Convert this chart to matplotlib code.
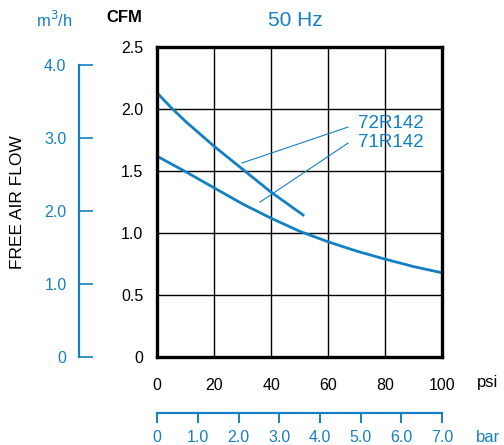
import numpy as np
import matplotlib
matplotlib.use("Agg")
import matplotlib.pyplot as plt

plt.rcParams['font.family'] = ['Liberation Sans', 'DejaVu Sans']

BLUE = '#1380c4'

# 72R142 curve (psi, CFM)
psi_72 = [0, 5, 10, 20, 30, 40, 51.6]
cfm_72 = [2.13, 2.01, 1.90, 1.70, 1.515, 1.33, 1.14]

# 71R142 curve (psi, CFM)
psi_71 = [0, 10, 20, 30, 40, 50, 60, 70, 80, 90, 100]
cfm_71 = [1.62, 1.495, 1.365, 1.235, 1.12, 1.015, 0.93, 0.855, 0.79, 0.73, 0.68]

cfm_ticks = [0, 0.5, 1.0, 1.5, 2.0, 2.5]
cfm_labels = ['0', '0.5', '1.0', '1.5', '2.0', '2.5']
psi_ticks = [0, 20, 40, 60, 80, 100]
m3h_ticks = [0, 1, 2, 3, 4]
m3h_labels = ['0', '1.0', '2.0', '3.0', '4.0']
bar_ticks = [0, 1, 2, 3, 4, 5, 6, 7]
bar_labels = ['0', '1.0', '2.0', '3.0', '4.0', '5.0', '6.0', '7.0']

CFM_PER_M3H = 0.5886
PSI_PER_BAR = 14.5038

FS = 11.5
W, H = 504, 445
fig = plt.figure(figsize=(W / 100, H / 100), dpi=100)


def fx(px):
    return px / W


def fy(py):
    return 1 - py / H


left, right, top, bottom = 157.3, 442.0, 47.3, 357.0
ax = fig.add_axes([fx(left), fy(bottom), fx(right) - fx(left), fy(top) - fy(bottom)])
ax.set_xlim(0, 100)
ax.set_ylim(0, 2.5)
ax.set_xticks(psi_ticks)
ax.set_yticks(cfm_ticks)
ax.set_yticklabels(cfm_labels)
ax.tick_params(length=0, labelsize=FS)
ax.tick_params(axis='y', pad=10)
ax.tick_params(axis='x', pad=15)
ax.grid(True, color='black', lw=1.0)
ax.set_axisbelow(True)
for s in ax.spines.values():
    s.set_linewidth(2.4)

ax.plot(psi_72, cfm_72, color=BLUE, lw=2.0, solid_capstyle='butt')
ax.plot(psi_71, cfm_71, color=BLUE, lw=2.0, solid_capstyle='butt')

# labels with leader lines
ax.text(70.5, 1.885, '72R142', color=BLUE, fontsize=13.5, va='center', ha='left')
ax.text(70.5, 1.73, '71R142', color=BLUE, fontsize=13.5, va='center', ha='left')
ax.plot([67.0, 29.75], [1.856, 1.566], color=BLUE, lw=0.8)
ax.plot([67.0, 36.1], [1.727, 1.251], color=BLUE, lw=0.8)

# left m3/h axis
ax_m = fig.add_axes([fx(79), fy(bottom), 0.001, fy(top) - fy(bottom)])
ax_m.set_ylim(0, 2.5 / CFM_PER_M3H)
ax_m.set_xticks([])
for k in ['top', 'right', 'bottom']:
    ax_m.spines[k].set_visible(False)
ax_m.spines['left'].set_color(BLUE)
ax_m.spines['left'].set_linewidth(1.6)
ax_m.spines['left'].set_bounds(0, 4)
ax_m.set_yticks(m3h_ticks)
ax_m.set_yticklabels(m3h_labels)
ax_m.tick_params(axis='y', direction='in', length=10, width=1.2, color=BLUE,
                 labelcolor=BLUE, labelsize=FS, pad=9)
ax_m.patch.set_visible(False)

# bottom bar axis
ax_b = fig.add_axes([fx(left), fy(413), fx(right) - fx(left), 0.001])
ax_b.set_xlim(0, 100 / PSI_PER_BAR)
ax_b.set_yticks([])
for k in ['top', 'right', 'left']:
    ax_b.spines[k].set_visible(False)
ax_b.spines['bottom'].set_color(BLUE)
ax_b.spines['bottom'].set_linewidth(1.6)
ax_b.spines['bottom'].set_bounds(0, 7)
ax_b.set_xticks(bar_ticks)
ax_b.set_xticklabels(bar_labels)
ax_b.tick_params(axis='x', direction='out', length=7, width=1.4, color=BLUE,
                 labelcolor=BLUE, labelsize=FS, pad=5)
ax_b.patch.set_visible(False)

# titles and units
fig.text(fx(295), fy(20), '50 Hz', color=BLUE, fontsize=15, ha='center', va='center')
fig.text(fx(124), fy(18), 'CFM', color='black', fontsize=12, ha='center', va='center',
         fontweight='bold')
fig.text(fx(54), fy(20), 'm$^3$/h', color=BLUE, fontsize=12, ha='center', va='center')
fig.text(fx(18), fy(202), 'FREE AIR FLOW', color='black', fontsize=12.5,
         ha='center', va='center', rotation=90)
fig.text(fx(488), fy(383), 'psi', color='black', fontsize=FS + 0.5, ha='center', va='center')
fig.text(fx(488), fy(437), 'bar', color=BLUE, fontsize=FS + 0.5, ha='center', va='center')

fig.savefig('out.png', dpi=100)
